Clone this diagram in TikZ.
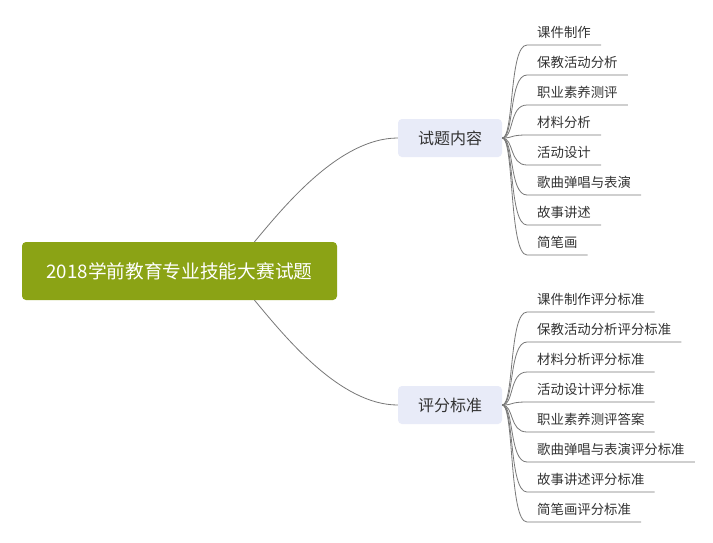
\documentclass[tikz,border=0pt]{standalone}
\usepackage{fontspec}
\setmainfont{Noto Sans CJK SC}
\usepackage{xcolor}
\usepackage{tikz}
\usetikzlibrary{positioning}
\definecolor{olive}{RGB}{139,163,21}
\definecolor{lav}{RGB}{232,235,248}
\definecolor{ink}{RGB}{51,51,51}
\definecolor{wire}{RGB}{120,120,120}

\begin{document}
\begin{tikzpicture}[x=1pt, y=-1pt,
  rootbox/.style={fill=olive, text=white, rounded corners=4pt, font=\fontsize{18.7}{22}\selectfont,
                  minimum width=315pt, minimum height=58pt},
  subbox/.style={fill=lav, text=ink, rounded corners=4pt, font=\fontsize{16}{19}\selectfont,
                 minimum width=104pt, minimum height=38pt},
  leaf/.style={text=ink, font=\fontsize{13.4}{16}\selectfont, anchor=south west,
               inner xsep=10pt, inner ysep=7pt, text height=10pt, text depth=0pt},
  conn/.style={draw=wire, line width=0.8pt}]
\useasboundingbox[fill=white] (0,0) rectangle (713,542);
\node[rootbox] (root) at (179.5,271) {2018学前教育专业技能大赛试题};
\node[subbox] (b1) at (450,138) {试题内容};
\node[subbox] (b2) at (450,405) {评分标准};
\draw[conn] ([xshift=75pt]root.north) .. controls +(30,-36) and +(-58,0) .. (b1.west);
\draw[conn] ([xshift=75pt]root.south) .. controls +(30,36) and +(-58,0) .. (b2.west);
% content items
\foreach \t [count=\i] in {课件制作,保教活动分析,职业素养测评,材料分析,活动设计,歌曲弹唱与表演,故事讲述,简笔画}{
  \node[leaf] (a\i) at (527,15+30*\i) {\t};
  \draw[conn] (b1.east) .. controls +(12,0) and +(-18,0) .. (a\i.south west) -- (a\i.south east);
}
% scoring items
\foreach \t [count=\i] in {课件制作评分标准,保教活动分析评分标准,材料分析评分标准,活动设计评分标准,职业素养测评答案,歌曲弹唱与表演评分标准,故事讲述评分标准,简笔画评分标准}{
  \node[leaf] (s\i) at (527,282+30*\i) {\t};
  \draw[conn] (b2.east) .. controls +(12,0) and +(-18,0) .. (s\i.south west) -- (s\i.south east);
}
\end{tikzpicture}
\end{document}
